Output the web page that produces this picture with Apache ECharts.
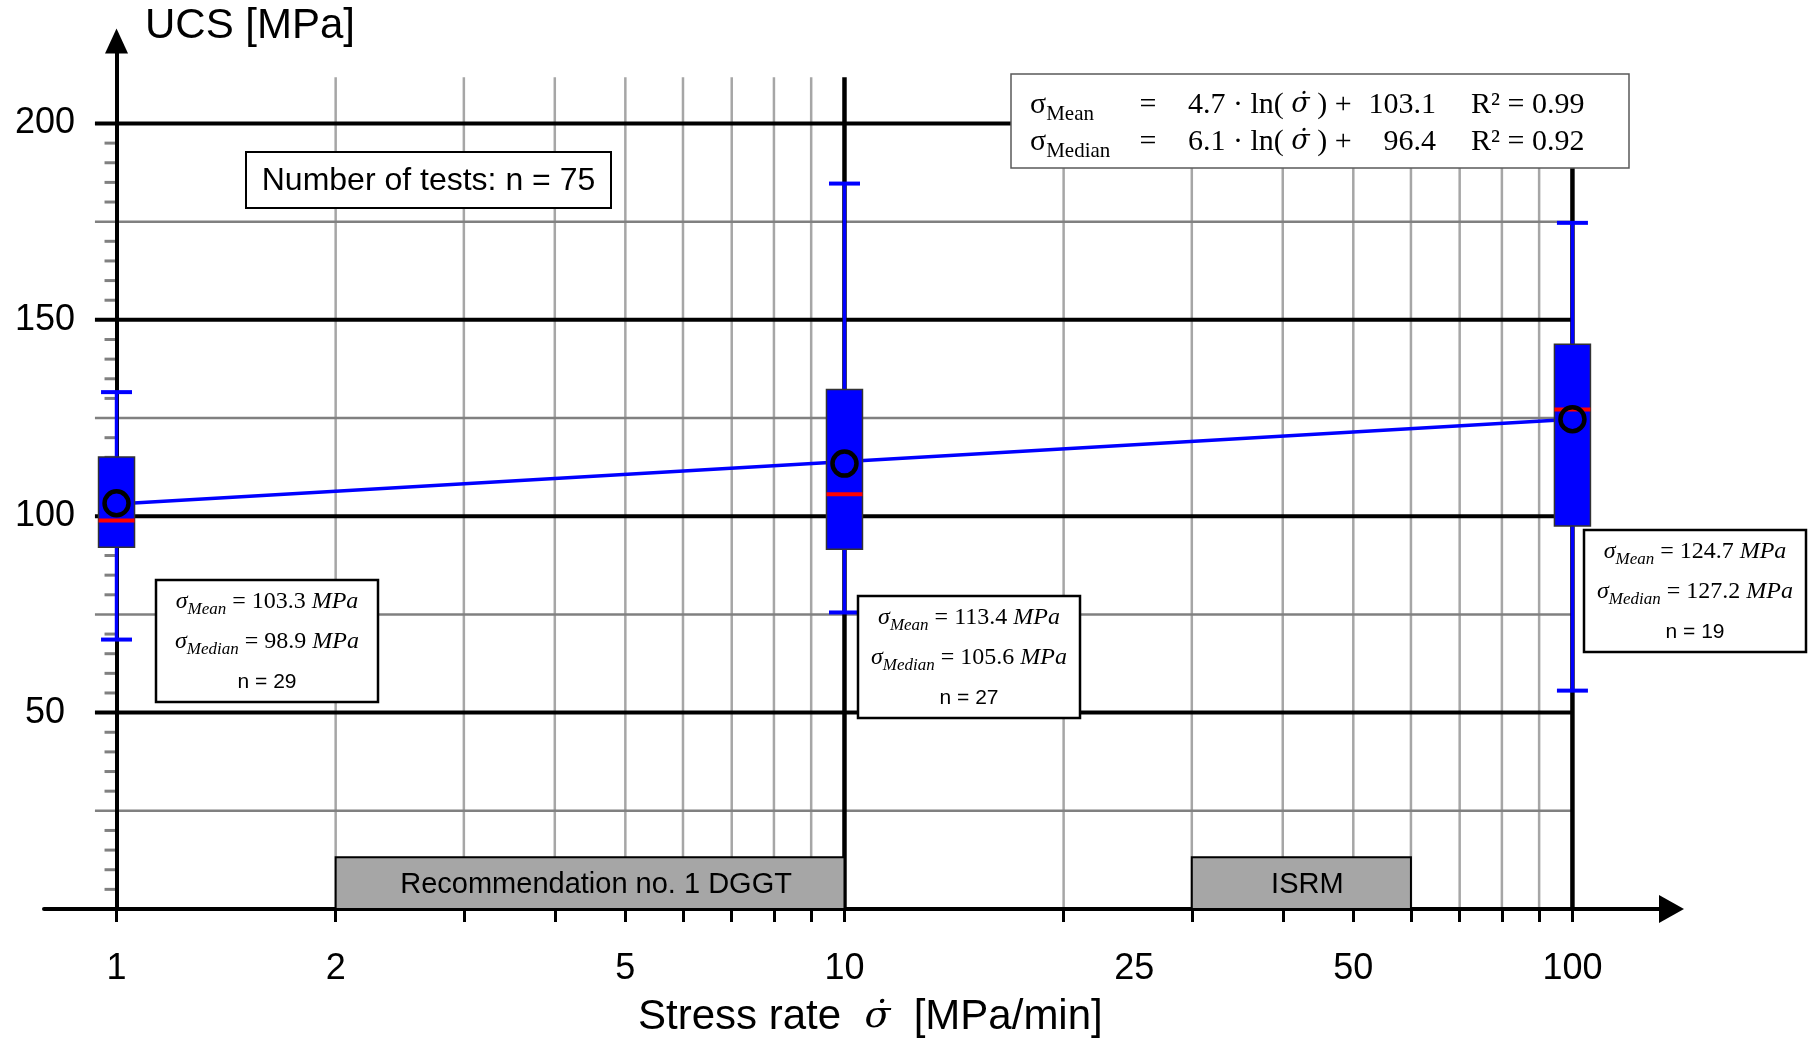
<!DOCTYPE html>
<html>
<head>
<meta charset="utf-8">
<title>UCS vs stress rate</title>
<script src="https://cdn.jsdelivr.net/npm/echarts@6.0.0/dist/echarts.min.js"></script>
<style>
  html, body { margin: 0; padding: 0; background: #fff; }
  #main { width: 1809px; height: 1042px; }
</style>
</head>
<body>
<div id="main"></div>
<script>
// stress rate groups [MPa/min]
var rates = [1, 10, 100];
// box plot values [MPa]
var whiskerLow = [68.6, 75.5, 55.6];
var quartile1 = [92.1, 91.6, 97.5];
var medians = [98.9, 105.6, 127.2];
var quartile3 = [115.1, 132.3, 143.8];
var whiskerHigh = [131.6, 184.7, 174.7];
var means = [103.3, 113.4, 124.7];
var counts = [29, 27, 19];
// fitted line of the means (end points)
var fitRates = [1, 100];
var fitValues = [103.1, 124.7];
// fit coefficients: mean, median
var fitNames = ['Mean', 'Median'];
var fitSlope = ['4.7', '6.1'];
var fitIntercept = ['103.1', '96.4'];
var fitR2 = ['0.99', '0.92'];
// recommended ranges
var rangeNames = ['Recommendation no. 1 DGGT', 'ISRM'];
var rangeFrom = [2, 30];
var rangeTo = [10, 60];
var rangeTop = [13.2, 13.2];
// axes / grid
var xTickValues = [1, 2, 3, 4, 5, 6, 7, 8, 9, 10, 20, 30, 40, 50, 60, 70, 80, 90, 100];
var xLabelValues = [1, 2, 5, 10, 25, 50, 100];
var xGrayLines = [2, 3, 4, 5, 6, 7, 8, 9, 20, 30, 40, 50, 60, 70, 80, 90];
var xBlackLines = [10, 100];
var yLabelValues = [50, 100, 150, 200];
var yBlackLines = [50, 100, 150, 200];
var yGrayLines = [25, 75, 125, 175];
var yMinorTicks = [5, 10, 15, 20, 30, 35, 40, 45, 55, 60, 65, 70, 80, 85, 90, 95,
  105, 110, 115, 120, 130, 135, 140, 145, 155, 160, 165, 170, 180, 185, 190, 195];

// layout
var xMin = 0.795, xMax = 136.8;
var gridLeft = 44, gridRight = 137.5, gridTop = 41, gridBottom = 133;
var gridW = 1809 - gridLeft - gridRight;
var yAxisShift = gridW * (0 - Math.log10(xMin)) / (Math.log10(xMax) - Math.log10(xMin));
var vLineTop = 211.8;   // upper end of the vertical grid lines
var hLineStart = 0.934; // horizontal grid lines start left of the axis

var sans = '"Liberation Sans", Arial, sans-serif';
var serif = '"Liberation Serif", "Times New Roman", serif';
var dotSerif = '"DejaVu Serif", serif'; // handles the combining dot over sigma
var sigmaDot = 'σ\u0307';

var chart = echarts.init(document.getElementById('main'));

function vLine(color, width) {
  return function (params, api) {
    var a = api.coord([api.value(0), 0]);
    var b = api.coord([api.value(0), vLineTop]);
    return { type: 'line', shape: { x1: a[0], y1: a[1], x2: b[0], y2: b[1] },
      style: { stroke: color, lineWidth: width } };
  };
}
function hLine(color, width) {
  return function (params, api) {
    var a = api.coord([hLineStart, api.value(1)]);
    var b = api.coord([100, api.value(1)]);
    return { type: 'line', shape: { x1: a[0], y1: a[1], x2: b[0], y2: b[1] },
      style: { stroke: color, lineWidth: width } };
  };
}
// graphic children do not take the group's z, so set it on each
function onTop(list) {
  list.forEach(function (el) { el.z = 100; });
  return { type: 'group', z: 100, children: list };
}

// math text styles
var mathRich = {
  s: { fontFamily: serif, fontSize: 24, fontStyle: 'italic', lineHeight: 32, verticalAlign: 'middle' },
  t: { fontFamily: serif, fontSize: 24, lineHeight: 32, verticalAlign: 'middle' },
  b: { fontFamily: serif, fontSize: 17, fontStyle: 'italic', lineHeight: 18, verticalAlign: 'bottom' }
};
var eqRich = {
  t: { fontFamily: serif, fontSize: 30, lineHeight: 40, verticalAlign: 'middle' },
  i: { fontFamily: dotSerif, fontSize: 27, fontStyle: 'italic', lineHeight: 40, verticalAlign: 'middle' },
  b: { fontFamily: serif, fontSize: 21, lineHeight: 24, verticalAlign: 'bottom' }
};

function statBox(i, left, top) {
  var cx = left + 111;
  return onTop([
    { type: 'rect', shape: { x: left, y: top, width: 222, height: 122 },
      style: { fill: '#fff', stroke: '#000', lineWidth: 2.5 } },
    { type: 'text', style: { x: cx, y: top + 22, fill: '#000', textAlign: 'center', textVerticalAlign: 'middle',
      text: '{s|σ}{b|Mean}{t| = ' + means[i].toFixed(1) + ' }{s|MPa}', rich: mathRich } },
    { type: 'text', style: { x: cx, y: top + 62, fill: '#000', textAlign: 'center', textVerticalAlign: 'middle',
      text: '{s|σ}{b|Median}{t| = ' + medians[i].toFixed(1) + ' }{s|MPa}', rich: mathRich } },
    { type: 'text', style: { x: cx, y: top + 102, fill: '#000', textAlign: 'center', textVerticalAlign: 'middle',
      text: 'n = ' + counts[i], font: '21px ' + sans } }
  ]);
}

function eqLine(k, y) {
  return [
    { type: 'text', style: { x: 1030, y: y, fill: '#000', textAlign: 'left', textVerticalAlign: 'middle',
      text: '{t|σ}{b|' + fitNames[k] + '}', rich: eqRich } },
    { type: 'text', style: { x: 1148, y: y, fill: '#000', textAlign: 'center', textVerticalAlign: 'middle',
      text: '{t|=}', rich: eqRich } },
    { type: 'text', style: { x: 1188, y: y, fill: '#000', textAlign: 'left', textVerticalAlign: 'middle',
      text: '{t|' + fitSlope[k] + ' · ln( }{i|' + sigmaDot + '}{t| ) +}', rich: eqRich } },
    { type: 'text', style: { x: 1436, y: y, fill: '#000', textAlign: 'right', textVerticalAlign: 'middle',
      text: '{t|' + fitIntercept[k] + '}', rich: eqRich } },
    { type: 'text', style: { x: 1471, y: y, fill: '#000', textAlign: 'left', textVerticalAlign: 'middle',
      text: '{t|R² = ' + fitR2[k] + '}', rich: eqRich } }
  ];
}

var total = counts.reduce(function (a, b) { return a + b; }, 0);

var option = {
  animation: false,
  backgroundColor: '#fff',
  grid: { left: gridLeft, right: gridRight, top: gridTop, bottom: gridBottom, outerBoundsMode: 'none' },
  xAxis: {
    type: 'log', logBase: 10, min: xMin, max: xMax, z: 2,
    axisLine: { show: true, onZero: false, symbol: ['none', 'triangle'], symbolSize: [28, 25],
      lineStyle: { color: '#000', width: 4 } },
    axisTick: { show: true, customValues: xTickValues, length: 13, lineStyle: { color: '#000', width: 3 } },
    axisLabel: { customValues: xLabelValues, margin: 60, verticalAlign: 'middle',
      formatter: function (v) { return String(Math.round(v)); },
      fontFamily: sans, fontSize: 36, color: '#000' },
    splitLine: { show: false },
    minorTick: { show: false },
    minorSplitLine: { show: false }
  },
  yAxis: {
    type: 'value', min: 0, max: 221, interval: 25, offset: -yAxisShift, z: 2,
    axisLine: { show: true, onZero: false, symbol: ['none', 'triangle'], symbolSize: [23, 25],
      lineStyle: { color: '#000', width: 4 } },
    axisTick: { show: false },
    axisLabel: { customValues: yLabelValues, align: 'center', margin: 71.5,
      formatter: function (v) { return (v > 0 && v % 50 === 0) ? String(v) : ''; },
      fontFamily: sans, fontSize: 36, color: '#000' },
    splitLine: { show: false }
  },
  series: [
    { type: 'custom', z: 1, silent: true, renderItem: vLine('#A6A6A6', 2.5),
      data: xGrayLines.map(function (v) { return [v, 0]; }) },
    { type: 'custom', z: 1, silent: true, renderItem: hLine('#808080', 2.5),
      data: yGrayLines.map(function (v) { return [1, v]; }) },
    { type: 'custom', z: 1, silent: true, renderItem: hLine('#000', 4),
      data: yBlackLines.map(function (v) { return [1, v]; }) },
    { type: 'custom', z: 1, silent: true, renderItem: vLine('#000', 4.5),
      data: xBlackLines.map(function (v) { return [v, 0]; }) },
    { // minor ticks of the stress axis
      type: 'custom', z: 1, silent: true,
      data: yMinorTicks.map(function (v) { return [1, v]; }),
      renderItem: function (params, api) {
        var p = api.coord([1, api.value(1)]);
        return { type: 'line', shape: { x1: p[0] - 12, y1: p[1], x2: p[0], y2: p[1] },
          style: { stroke: '#808080', lineWidth: 3 } };
      }
    },
    { // recommended stress-rate ranges
      type: 'custom', z: 3, silent: true,
      data: rangeFrom.map(function (v, i) { return [v, rangeTo[i], rangeTop[i]]; }),
      encode: { x: [0, 1], y: 2 },
      renderItem: function (params, api) {
        var p0 = api.coord([api.value(0), 0]);
        var p1 = api.coord([api.value(1), api.value(2)]);
        return {
          type: 'group',
          children: [
            { type: 'rect', shape: { x: p0[0], y: p1[1], width: p1[0] - p0[0], height: p0[1] - p1[1] },
              style: { fill: '#A6A6A6', stroke: '#000', lineWidth: 2 } },
            { type: 'text', style: { text: rangeNames[params.dataIndex], x: (p0[0] + p1[0]) / 2 + 6,
              y: (p0[1] + p1[1]) / 2 + 2, textAlign: 'center', textVerticalAlign: 'middle',
              font: '29px ' + sans, fill: '#000' } }
          ]
        };
      }
    },
    { // fit of the mean values
      type: 'line', z: 3, silent: true, symbol: 'none',
      data: fitRates.map(function (x, i) { return [x, fitValues[i]]; }),
      lineStyle: { color: '#0000FF', width: 3.5 }
    },
    { // box plots
      type: 'custom', z: 4, silent: true,
      data: rates.map(function (x, i) {
        return [x, whiskerLow[i], quartile1[i], medians[i], quartile3[i], whiskerHigh[i]];
      }),
      encode: { x: 0, y: [1, 2, 3, 4, 5] },
      renderItem: function (params, api) {
        var x = api.value(0);
        var lo = api.coord([x, api.value(1)]);
        var q1 = api.coord([x, api.value(2)]);
        var md = api.coord([x, api.value(3)]);
        var q3 = api.coord([x, api.value(4)]);
        var hi = api.coord([x, api.value(5)]);
        var cx = lo[0], bw = 36, cw = 31;
        return {
          type: 'group',
          children: [
            { type: 'line', shape: { x1: cx, y1: lo[1], x2: cx, y2: hi[1] },
              style: { stroke: '#0000FF', lineWidth: 3.5 } },
            { type: 'line', shape: { x1: cx - cw / 2, y1: lo[1], x2: cx + cw / 2, y2: lo[1] },
              style: { stroke: '#0000FF', lineWidth: 4 } },
            { type: 'line', shape: { x1: cx - cw / 2, y1: hi[1], x2: cx + cw / 2, y2: hi[1] },
              style: { stroke: '#0000FF', lineWidth: 4 } },
            { type: 'rect', shape: { x: cx - bw / 2, y: q3[1], width: bw, height: q1[1] - q3[1] },
              style: { fill: '#0000FF', stroke: '#333', lineWidth: 1.5 } },
            { type: 'line', shape: { x1: cx - bw / 2, y1: md[1], x2: cx + bw / 2, y2: md[1] },
              style: { stroke: '#FF0000', lineWidth: 4 } }
          ]
        };
      }
    },
    { // mean values
      type: 'scatter', z: 5, silent: true, symbol: 'circle', symbolSize: 24,
      data: rates.map(function (x, i) { return [x, means[i]]; }),
      itemStyle: { color: 'rgba(0,0,0,0)', borderColor: '#000', borderWidth: 4.5, opacity: 1 }
    }
  ],
  graphic: {
    elements: [
      { type: 'text', z: 100, style: { x: 145, y: 26, text: 'UCS [MPa]', font: '42px ' + sans, fill: '#000',
        textAlign: 'left', textVerticalAlign: 'middle' } },
      { type: 'text', z: 100, style: { x: 638, y: 1017, fill: '#000', textAlign: 'left', textVerticalAlign: 'middle',
        text: '{a|Stress rate  }{m|' + sigmaDot + '}{a|  [MPa/min]}',
        rich: {
          a: { fontFamily: sans, fontSize: 42, lineHeight: 50, verticalAlign: 'middle' },
          m: { fontFamily: dotSerif, fontSize: 38, fontStyle: 'italic', lineHeight: 50, verticalAlign: 'middle' }
        } } },
      onTop([
        { type: 'rect', shape: { x: 246, y: 152, width: 365, height: 56 },
          style: { fill: '#fff', stroke: '#000', lineWidth: 2 } },
        { type: 'text', style: { x: 428.5, y: 181, text: 'Number of tests: n = ' + total, font: '32px ' + sans,
          fill: '#000', textAlign: 'center', textVerticalAlign: 'middle' } }
      ]),
      onTop([
        { type: 'rect', shape: { x: 1011, y: 74, width: 618, height: 94 },
          style: { fill: '#fff', stroke: '#595959', lineWidth: 1.5 } }
      ].concat(eqLine(0, 105)).concat(eqLine(1, 142))),
      statBox(0, 156, 580),
      statBox(1, 858, 596),
      statBox(2, 1584, 530)
    ]
  }
};

chart.setOption(option);
</script>
</body>
</html>
